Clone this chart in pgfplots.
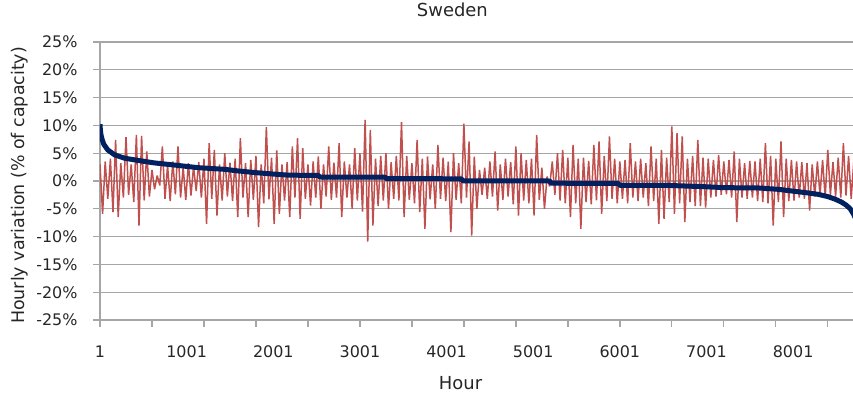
\documentclass[border=0pt]{standalone}
\usepackage{pgfplots}
\pgfplotsset{compat=1.18}
\usepackage{fontspec}
\setmainfont{DejaVu Sans}
\definecolor{redser}{RGB}{192,80,77}
\definecolor{blueser}{RGB}{0,32,96}
\definecolor{gridgray}{RGB}{166,166,166}
\begin{document}
\begin{tikzpicture}
\useasboundingbox (-100bp,-75bp) rectangle (753bp,320bp);
\begin{axis}[
  at={(0,0)}, anchor=south west,
  scale only axis, width=753bp, height=278bp,
  xmin=1, xmax=8692, ymin=-25, ymax=25,
  axis x line*=bottom, axis y line*=left,
  axis line style={gridgray, line width=1.3bp},
  ymajorgrids, grid style={gridgray, line width=1.3bp},
  ytick={-25,-20,...,25},
  yticklabels={-25\%,-20\%,-15\%,-10\%,-5\%,0\%,5\%,10\%,15\%,20\%,25\%},
  xtick={1,1001,2001,3001,4001,5001,6001,7001,8001},
  xticklabels={1,1001,2001,3001,4001,5001,6001,7001,8001},
  minor xtick={1,601,1201,1801,2401,3001,3601,4201,4801,5401,6001,6601,7201,7801,8401},
  tick align=outside,
  major tick length=7bp, minor tick length=7bp,
  major x tick style={draw=none},
  every tick/.style={gridgray, line width=1.3bp},
  ticklabel style={font=\fontsize{16}{19}\selectfont, text=black!85},
  yticklabel style={xshift=-12bp},
  xticklabel style={yshift=-15bp},
  title={Sweden},
  title style={at={(axis description cs:0.468,1.0953)}, anchor=center, font=\fontsize{18}{21}\selectfont, text=black!85},
  xlabel={Hour},
  xlabel style={at={(axis description cs:0.4788,-0.2266)}, anchor=center, font=\fontsize{18}{21}\selectfont, text=black!85},
  ylabel={Hourly variation (\% of capacity)},
  every axis y label/.style={at={(axis description cs:-0.1069,0.484)}, anchor=center, rotate=90, font=\fontsize{17.5}{21}\selectfont, text=black!85},
  clip=true,
]
\addplot[redser, line width=1.5bp, line join=bevel] coordinates {
(1,3.0) (31,-5.9) (61,3.5) (91,-3.2) (121,4.0) (151,-5.6) (181,7.4) (211,-6.5) (241,3.2) (271,-3.0)
(301,7.9) (331,-2.5) (361,3.0) (391,-3.8) (421,8.3) (451,-8.0) (481,8.1) (511,-3.5) (541,5.3) (571,-2.8)
(601,2.0) (631,-1.5) (661,1.0) (691,-0.8) (721,6.2) (751,-3.2) (781,2.8) (811,-3.6) (841,3.5) (871,-2.4)
(901,6.2) (931,-3.0) (961,2.5) (991,-3.4) (1021,3.2) (1051,-2.6) (1081,2.6) (1111,-1.8) (1141,3.4) (1171,-3.0)
(1201,4.0) (1231,-7.7) (1261,6.8) (1291,-3.2) (1321,5.6) (1351,-6.2) (1381,3.0) (1411,-3.5) (1441,5.0) (1471,-2.8)
(1501,3.3) (1531,-3.6) (1561,4.0) (1591,-6.5) (1621,7.7) (1651,-3.0) (1681,3.2) (1711,-6.5) (1741,3.8) (1771,-3.4)
(1801,4.5) (1831,-8.3) (1861,3.0) (1891,-4.0) (1921,9.7) (1951,-3.3) (1981,4.2) (2011,-7.7) (2041,5.5) (2071,-5.9)
(2101,3.0) (2131,-3.5) (2161,3.4) (2191,-6.5) (2221,6.2) (2251,-3.0) (2281,7.7) (2311,-6.8) (2341,5.9) (2371,-3.2)
(2401,3.0) (2431,-4.4) (2461,3.5) (2491,-3.0) (2521,4.4) (2551,-5.0) (2581,3.0) (2611,-2.8) (2641,6.2) (2671,-3.4)
(2701,3.3) (2731,-3.0) (2761,6.8) (2791,-6.5) (2821,3.5) (2851,-3.0) (2881,3.0) (2911,-5.0) (2941,5.9) (2971,-3.5)
(3001,5.0) (3031,-5.5) (3061,11.0) (3091,-10.9) (3121,9.2) (3151,-8.0) (3181,4.0) (3211,-4.5) (3241,4.5) (3271,-3.5)
(3301,5.0) (3331,-5.0) (3361,3.4) (3391,-3.2) (3421,4.5) (3451,-3.5) (3481,10.6) (3511,-6.5) (3541,4.5) (3571,-3.4)
(3601,3.2) (3631,-4.0) (3661,7.4) (3691,-5.6) (3721,4.0) (3751,-8.6) (3781,4.4) (3811,-3.3) (3841,3.0) (3871,-5.0)
(3901,6.5) (3931,-3.2) (3961,4.2) (3991,-3.6) (4021,3.5) (4051,-9.2) (4081,5.0) (4111,-3.4) (4141,3.2) (4171,-4.0)
(4201,10.3) (4231,-3.0) (4261,7.1) (4291,-9.8) (4321,4.4) (4351,-5.0) (4381,2.0) (4411,-2.5) (4441,2.4) (4471,-3.2)
(4501,3.5) (4531,-2.8) (4561,5.3) (4591,-5.3) (4621,3.0) (4651,-3.4) (4681,4.0) (4711,-2.8) (4741,3.4) (4771,-4.2)
(4801,6.2) (4831,-6.2) (4861,5.0) (4891,-3.5) (4921,3.8) (4951,-4.0) (4981,4.0) (5011,-6.2) (5041,8.3) (5071,-3.4)
(5101,2.4) (5131,-5.0) (5161,0.8) (5191,-1.0) (5221,3.5) (5251,-2.5) (5281,5.0) (5311,-3.5) (5341,5.6) (5371,-4.0)
(5401,4.2) (5431,-6.5) (5461,6.5) (5491,-4.0) (5521,4.0) (5551,-8.6) (5581,4.2) (5611,-3.8) (5641,3.6) (5671,-4.2)
(5701,6.5) (5731,-3.5) (5761,7.1) (5791,-5.9) (5821,4.5) (5851,-3.6) (5881,8.0) (5911,-3.2) (5941,4.0) (5971,-4.0)
(6001,3.5) (6031,-3.2) (6061,3.8) (6091,-4.0) (6121,6.8) (6151,-3.0) (6181,3.5) (6211,-3.6) (6241,4.0) (6271,-3.0)
(6301,3.2) (6331,-4.5) (6361,6.2) (6391,-3.6) (6421,4.0) (6451,-7.7) (6481,5.6) (6511,-6.8) (6541,4.2) (6571,-3.8)
(6601,9.8) (6631,-5.9) (6661,8.6) (6691,-4.0) (6721,8.0) (6751,-7.4) (6781,4.0) (6811,-3.8) (6841,4.5) (6871,-4.5)
(6901,7.4) (6931,-4.5) (6961,4.2) (6991,-4.8) (7021,4.0) (7051,-3.0) (7081,3.8) (7111,-2.8) (7141,4.7) (7171,-2.5)
(7201,3.5) (7231,-2.4) (7261,3.8) (7291,-3.0) (7321,5.3) (7351,-7.4) (7381,4.0) (7411,-3.0) (7441,3.2) (7471,-3.2)
(7501,3.6) (7531,-3.0) (7561,3.5) (7591,-3.6) (7621,4.0) (7651,-3.8) (7681,6.8) (7711,-4.0) (7741,4.5) (7771,-8.0)
(7801,4.0) (7831,-3.8) (7861,7.1) (7891,-6.5) (7921,4.0) (7951,-3.6) (7981,3.8) (8011,-3.5) (8041,3.5) (8071,-3.0)
(8101,3.4) (8131,-3.2) (8161,3.2) (8191,-5.3) (8221,3.0) (8251,-2.8) (8281,3.5) (8311,-2.6) (8341,3.8) (8371,-3.0)
(8401,5.6) (8431,-2.5) (8461,3.4) (8491,-2.8) (8521,4.2) (8551,-3.0) (8581,6.8) (8611,-2.6) (8641,4.5) (8671,-3.2)
(8701,3.5) (8731,-2.5) (8760,0.5)
};
\addplot[blueser, line width=5bp, line join=round] coordinates {
(1,10.2) (5,9.3) (12,8.3) (25,7.5) (45,6.6) (90,5.6) (170,4.7) (285,4.1) (440,3.7) (630,3.25)
(900,2.8) (1130,2.4) (1440,2.1) (1600,1.8) (1800,1.5) (2000,1.25) (2180,1.05) (2520,1.0) (2540,0.72) (3290,0.7)
(3310,0.42) (4170,0.4) (4190,0.02) (5190,0.0) (5210,-0.4) (5980,-0.42) (6000,-0.77) (6560,-0.8) (6945,-1.0) (7215,-1.2)
(7600,-1.25) (7830,-1.5) (7985,-1.8) (8150,-2.1) (8290,-2.4) (8400,-2.8) (8483,-3.25) (8560,-3.8) (8618,-4.4) (8660,-5.0)
(8696,-5.9) (8730,-7.0)
};
\end{axis}
\end{tikzpicture}
\end{document}
